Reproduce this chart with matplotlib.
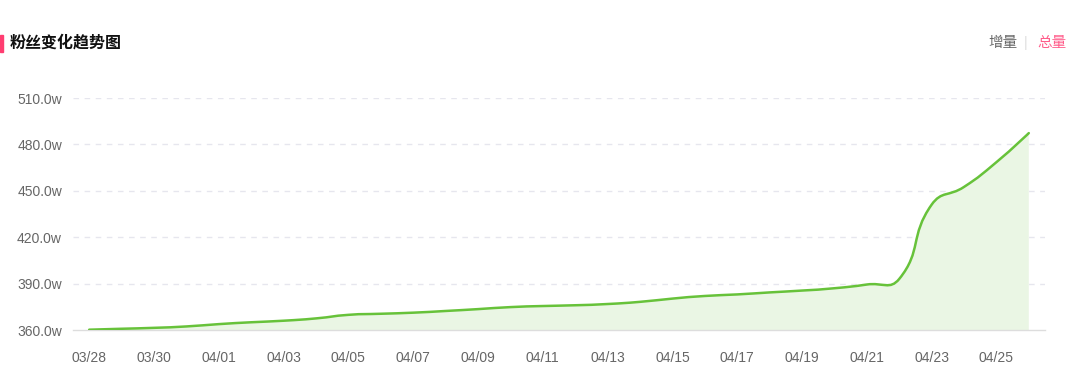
import numpy as np
import matplotlib
matplotlib.use("Agg")
import matplotlib.pyplot as plt
from matplotlib.path import Path
from matplotlib.patches import PathPatch, Rectangle

# 日期与粉丝总量（单位：万）
dates = ["03/28", "03/29", "03/30", "03/31", "04/01", "04/02", "04/03", "04/04",
         "04/05", "04/06", "04/07", "04/08", "04/09", "04/10", "04/11", "04/12",
         "04/13", "04/14", "04/15", "04/16", "04/17", "04/18", "04/19", "04/20",
         "04/21", "04/22", "04/23", "04/24", "04/25", "04/26"]
fans = [360.2, 360.8, 361.4, 362.3, 363.8, 365.0, 366.0, 367.5,
        369.8, 370.5, 371.2, 372.3, 373.5, 374.8, 375.5, 376.0,
        376.8, 378.2, 380.3, 382.0, 383.0, 384.3, 385.5, 387.0,
        389.4, 393.0, 441.0, 452.5, 468.5, 487.3]
yticks = [360, 390, 420, 450, 480, 510]

plt.rcParams['font.family'] = ['Liberation Sans', 'Noto Sans CJK SC', 'DejaVu Sans']

fig = plt.figure(figsize=(10.8, 3.76), dpi=100)
ax = fig.add_axes([73 / 1080, 1 - 330 / 376, 972 / 1080, 232 / 376])

x = np.arange(len(fans), dtype=float)
y = np.array(fans)

# 平滑曲线：贝塞尔控制点（echarts smooth 的算法）
smooth = 0.5
sx, sy = 32.4, 1.547  # 每单位对应的像素，仅用于算长度

cps = [None] * len(x)
cps[0] = ((x[0], y[0]), (x[0], y[0]))
cps[-1] = ((x[-1], y[-1]), (x[-1], y[-1]))
for i in range(1, len(x) - 1):
    vx, vy = x[i + 1] - x[i - 1], y[i + 1] - y[i - 1]
    d0 = np.hypot((x[i] - x[i - 1]) * sx, (y[i] - y[i - 1]) * sy)
    d1 = np.hypot((x[i + 1] - x[i]) * sx, (y[i + 1] - y[i]) * sy)
    r0 = d0 / (d0 + d1)
    r1 = d1 / (d0 + d1)
    cps[i] = ((x[i] - vx * smooth * r0, y[i] - vy * smooth * r0),
              (x[i] + vx * smooth * r1, y[i] + vy * smooth * r1))

verts = [(x[0], y[0])]
codes = [Path.MOVETO]
for i in range(len(x) - 1):
    verts += [cps[i][1], cps[i + 1][0], (x[i + 1], y[i + 1])]
    codes += [Path.CURVE4] * 3

fill_verts = verts + [(x[-1], 360), (x[0], 360), (x[0], y[0])]
fill_codes = codes + [Path.LINETO, Path.LINETO, Path.CLOSEPOLY]
ax.add_patch(PathPatch(Path(fill_verts, fill_codes), facecolor='#eaf6e4',
                       edgecolor='none', zorder=2))
ax.add_patch(PathPatch(Path(verts, codes), facecolor='none', edgecolor='#67c23a',
                       lw=1.8, zorder=3, capstyle='round'))

ax.set_xlim(-0.5, len(x) - 0.5)
ax.set_ylim(360, 510)
ax.set_yticks(yticks)
ax.set_yticklabels([f"{v:.1f}w" for v in yticks])
ax.set_xticks(x[::2])
ax.set_xticklabels(dates[::2])
ax.tick_params(axis='both', length=0, labelsize=10, colors='#666666')
ax.tick_params(axis='y', pad=8)
ax.tick_params(axis='x', pad=15)

for v in yticks[1:]:
    ax.axhline(v, color='#e6e6ee', lw=1, ls=(0, (4, 4)), zorder=1)
for s in ['top', 'right', 'left']:
    ax.spines[s].set_visible(False)
ax.spines['bottom'].set_color('#dddddd')
ax.spines['bottom'].set_linewidth(1)

# 标题与右上角切换
fig.patches.append(Rectangle((0, 1 - 52 / 376), 3 / 1080, 17 / 376,
                             transform=fig.transFigure, color='#ff3d71'))
fig.text(10 / 1080, 1 - 43 / 376, "粉丝变化趋势图", fontsize=11.5, fontweight='bold',
         color='#111111', va='center', ha='left', family=['Noto Sans CJK SC'])
fig.text(1003 / 1080, 1 - 43 / 376, "增量", fontsize=10.5, color='#666666',
         va='center', ha='center', family=['Noto Sans CJK SC'])
fig.text(1026 / 1080, 1 - 43 / 376, "|", fontsize=10.5, color='#dddddd',
         va='center', ha='center')
fig.text(1052 / 1080, 1 - 43 / 376, "总量", fontsize=10.5, color='#ff5c8a',
         va='center', ha='center', family=['Noto Sans CJK SC'])

fig.savefig("out.png", dpi=100)
